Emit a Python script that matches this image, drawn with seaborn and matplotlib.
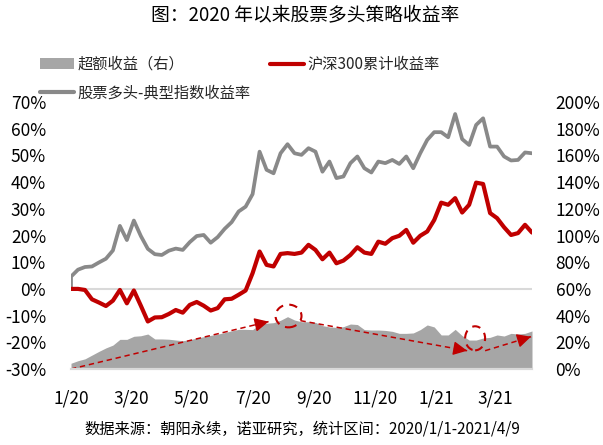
import numpy as np
import pandas as pd
import matplotlib
matplotlib.use("Agg")
import matplotlib.pyplot as plt
import matplotlib.dates as mdates
from matplotlib.patches import Patch, Ellipse
from matplotlib.lines import Line2D
import seaborn as sns

# ---------------- data ----------------
start_date = "2020-01-01"
n_weeks = 67

# CSI300 cumulative return (%), left axis
csi300 = [0, 0, -0.4, -3.9, -5.1, -6.4, -4.4, -0.4, -5.4, -0.6, -6.3, -12.2, -10.7,
          -10.6, -9.4, -7.9, -8.9, -6.0, -4.9, -6.3, -8.1, -7.2, -3.9, -3.7, -2.2,
          -0.6, 5.9, 14.0, 9.0, 8.4, 13.1, 13.4, 13.1, 13.6, 16.5, 14.6, 11.1, 13.6,
          9.6, 10.6, 12.7, 15.6, 13.6, 13.1, 17.7, 16.9, 19.0, 19.9, 22.1, 17.3,
          19.9, 21.5, 25.8, 32.3, 31.5, 34.0, 28.6, 31.5, 39.8, 39.3, 28.4, 26.5,
          23.1, 20.2, 20.9, 24.0, 21.1]

# Long-only equity strategy typical index return (%), left axis
long_only = [4.6, 7.2, 8.2, 8.4, 9.9, 11.3, 14.4, 23.6, 18.3, 25.6, 19.8, 15.0, 13.0,
             12.7, 14.3, 15.1, 14.6, 17.5, 19.8, 20.2, 17.3, 19.4, 22.5, 25.0, 29.0,
             30.8, 35.5, 51.4, 44.6, 43.3, 50.8, 54.2, 50.8, 50.2, 52.7, 51.4, 43.9,
             47.7, 41.5, 42.1, 47.1, 49.6, 45.2, 43.6, 47.7, 47.1, 48.3, 46.8, 49.6,
             45.2, 50.8, 55.8, 58.7, 58.7, 56.8, 65.5, 56.1, 53.9, 61.4, 63.9, 53.3,
             53.3, 49.6, 48.1, 48.3, 51.1, 50.8]
long_only_base = 0

# Excess return (%), right axis
excess = [4.3, 6.2, 7.6, 10.4, 13.2, 15.8, 17.9, 22.2, 22.2, 24.5, 24.9, 26.2, 22.5,
          22.5, 22.3, 21.7, 21.2, 21.9, 23.2, 24.2, 25.2, 26.1, 27.3, 28.6, 29.7,
          29.7, 29.5, 33.5, 34.3, 34.7, 36.5, 39.2, 36.7, 35.4, 35.4, 34.9, 32.5,
          31.5, 31.2, 31.7, 33.7, 33.3, 29.5, 29.2, 29.2, 28.9, 28.2, 26.7, 26.7,
          27.0, 29.5, 33.0, 31.5, 25.5, 25.5, 29.7, 25.0, 21.7, 21.7, 23.2, 23.7,
          25.5, 24.7, 26.7, 26.2, 26.7, 28.5]

left_ticks = [70, 60, 50, 40, 30, 20, 10, 0, -10, -20, -30]
right_ticks = [200, 180, 160, 140, 120, 100, 80, 60, 40, 20, 0]
x_tick_dates = ["2020-01-01", "2020-03-01", "2020-05-01", "2020-07-01", "2020-09-01",
                "2020-11-01", "2021-01-01", "2021-03-01"]
x_tick_labels = ["1/20", "3/20", "5/20", "7/20", "9/20", "11/20", "1/21", "3/21"]

title = "图：2020 年以来股票多头策略收益率"
source = "数据来源：朝阳永续，诺亚研究，统计区间：2020/1/1-2021/4/9"
label_excess = "超额收益（右）"
label_csi = "沪深300累计收益率"
label_long = "股票多头-典型指数收益率"

# ---------------- style ----------------
sns.set_theme(style="white")
plt.rcParams["font.family"] = ["Noto Sans CJK SC", "DejaVu Sans"]
plt.rcParams["axes.unicode_minus"] = False

RED = "#c00000"
GRAY_LINE = "#898989"
GRAY_AREA = "#a6a6a6"
GRID = "#d9d9d9"
TXT = "#000000"

dates = pd.date_range(start_date, periods=n_weeks, freq="7D")
df = pd.DataFrame({"date": dates, "csi300": csi300, "long": long_only, "excess": excess})
gray_x = pd.DatetimeIndex([dates[0]]).append(dates)
gray_y = [long_only_base] + long_only

W, H = 603, 445
fig = plt.figure(figsize=(W / 100, H / 100), dpi=100)
ax_l, ax_r, ax_b, ax_t = 71, 532, 369, 102
ax = fig.add_axes([ax_l / W, 1 - ax_b / H, (ax_r - ax_l) / W, (ax_b - ax_t) / H])
ax2 = ax.twinx()

# area on right axis
ax2.fill_between(df["date"], 0, df["excess"], color=GRAY_AREA, linewidth=0, zorder=1)

# lines on left axis
ax.axhline(0, color=GRID, lw=1.5, zorder=1)
sns.lineplot(x=gray_x, y=gray_y, ax=ax, color=GRAY_LINE, linewidth=2.7,
             estimator=None, sort=False, legend=False, zorder=3)
sns.lineplot(data=df, x="date", y="csi300", ax=ax, color=RED, linewidth=3,
             estimator=None, sort=False, legend=False, zorder=4)

ax.set_zorder(ax2.get_zorder() + 1)
ax.patch.set_visible(False)

ax.set_xlim(dates[0], dates[-1])
ax.set_ylim(-30, 70)
ax2.set_ylim(0, 200)

ax.set_yticks(left_ticks)
ax.set_yticklabels([f"{v}%" for v in left_ticks])
ax2.set_yticks(right_ticks)
ax2.set_yticklabels([f"{v}%" for v in right_ticks])
ax.set_xticks(pd.to_datetime(x_tick_dates))
ax.set_xticklabels(x_tick_labels)

ax.tick_params(axis="y", length=0, pad=18, labelsize=12.5, colors=TXT)
ax2.tick_params(axis="y", length=0, pad=17, labelsize=12.5, colors=TXT)
ax.tick_params(axis="x", length=0, pad=15, labelsize=12.5, colors=TXT)
ax.set_xlabel("")
ax.set_ylabel("")
ax2.set_ylabel("")

for a in (ax, ax2):
    for s in ("top", "left", "right"):
        a.spines[s].set_visible(False)
    a.spines["bottom"].set_color(GRID)
    a.spines["bottom"].set_linewidth(1.5)
    a.grid(False)

# ---------------- annotations (right-axis coords) ----------------
def d(s):
    return mdates.date2num(pd.Timestamp(s))

def dashed_arrow(x0, y0, x1, y1):
    ax2.plot([x0, x1], [y0, y1], ls=(0, (3.5, 2.5)), color=RED, lw=1.1, zorder=5)
    fx = x0 + (x1 - x0) * 0.93
    fy = y0 + (y1 - y0) * 0.93
    ax2.annotate("", xy=(x1, y1), xytext=(fx, fy),
                 arrowprops=dict(arrowstyle="-|>,head_length=0.6,head_width=0.3",
                                 color=RED, lw=1, mutation_scale=14,
                                 shrinkA=0, shrinkB=0), zorder=6)

dashed_arrow(d("2020-01-01"), 0, d("2020-07-17"), 35.5)
dashed_arrow(d("2020-08-18"), 36.2, d("2021-02-01"), 13.7)
dashed_arrow(d("2021-02-19"), 13.7, d("2021-04-06"), 24.2)

for cx, cy, w, h in [("2020-08-06", 39.7, 26, 17), ("2021-02-09", 23.0, 20, 18)]:
    ax2.add_patch(Ellipse((d(cx), cy), w, h, fill=False, edgecolor=RED,
                          lw=1.5, ls=(0, (4, 3)), zorder=6))

# ---------------- legend ----------------
handles = [Patch(facecolor=GRAY_AREA, edgecolor="none"),
           Line2D([], [], color=GRAY_LINE, lw=3),
           Line2D([], [], color=RED, lw=3)]
labels = [label_excess, label_long, label_csi]
fig.legend(handles, labels, loc="upper left", bbox_to_anchor=(40 / W, 1 - 56 / H),
           bbox_transform=fig.transFigure, ncol=2, frameon=False, fontsize=11,
           handlelength=2.2, handletextpad=0.25, columnspacing=1.3,
           labelspacing=0.75, borderpad=0, borderaxespad=0)

# ---------------- titles ----------------
fig.text(305 / W, 1 - 16 / H, title, ha="center", va="center", fontsize=13.5, color=TXT)
fig.text(302 / W, 1 - 429 / H, source, ha="center", va="center", fontsize=11, color=TXT)

fig.savefig("out.png", dpi=100)
